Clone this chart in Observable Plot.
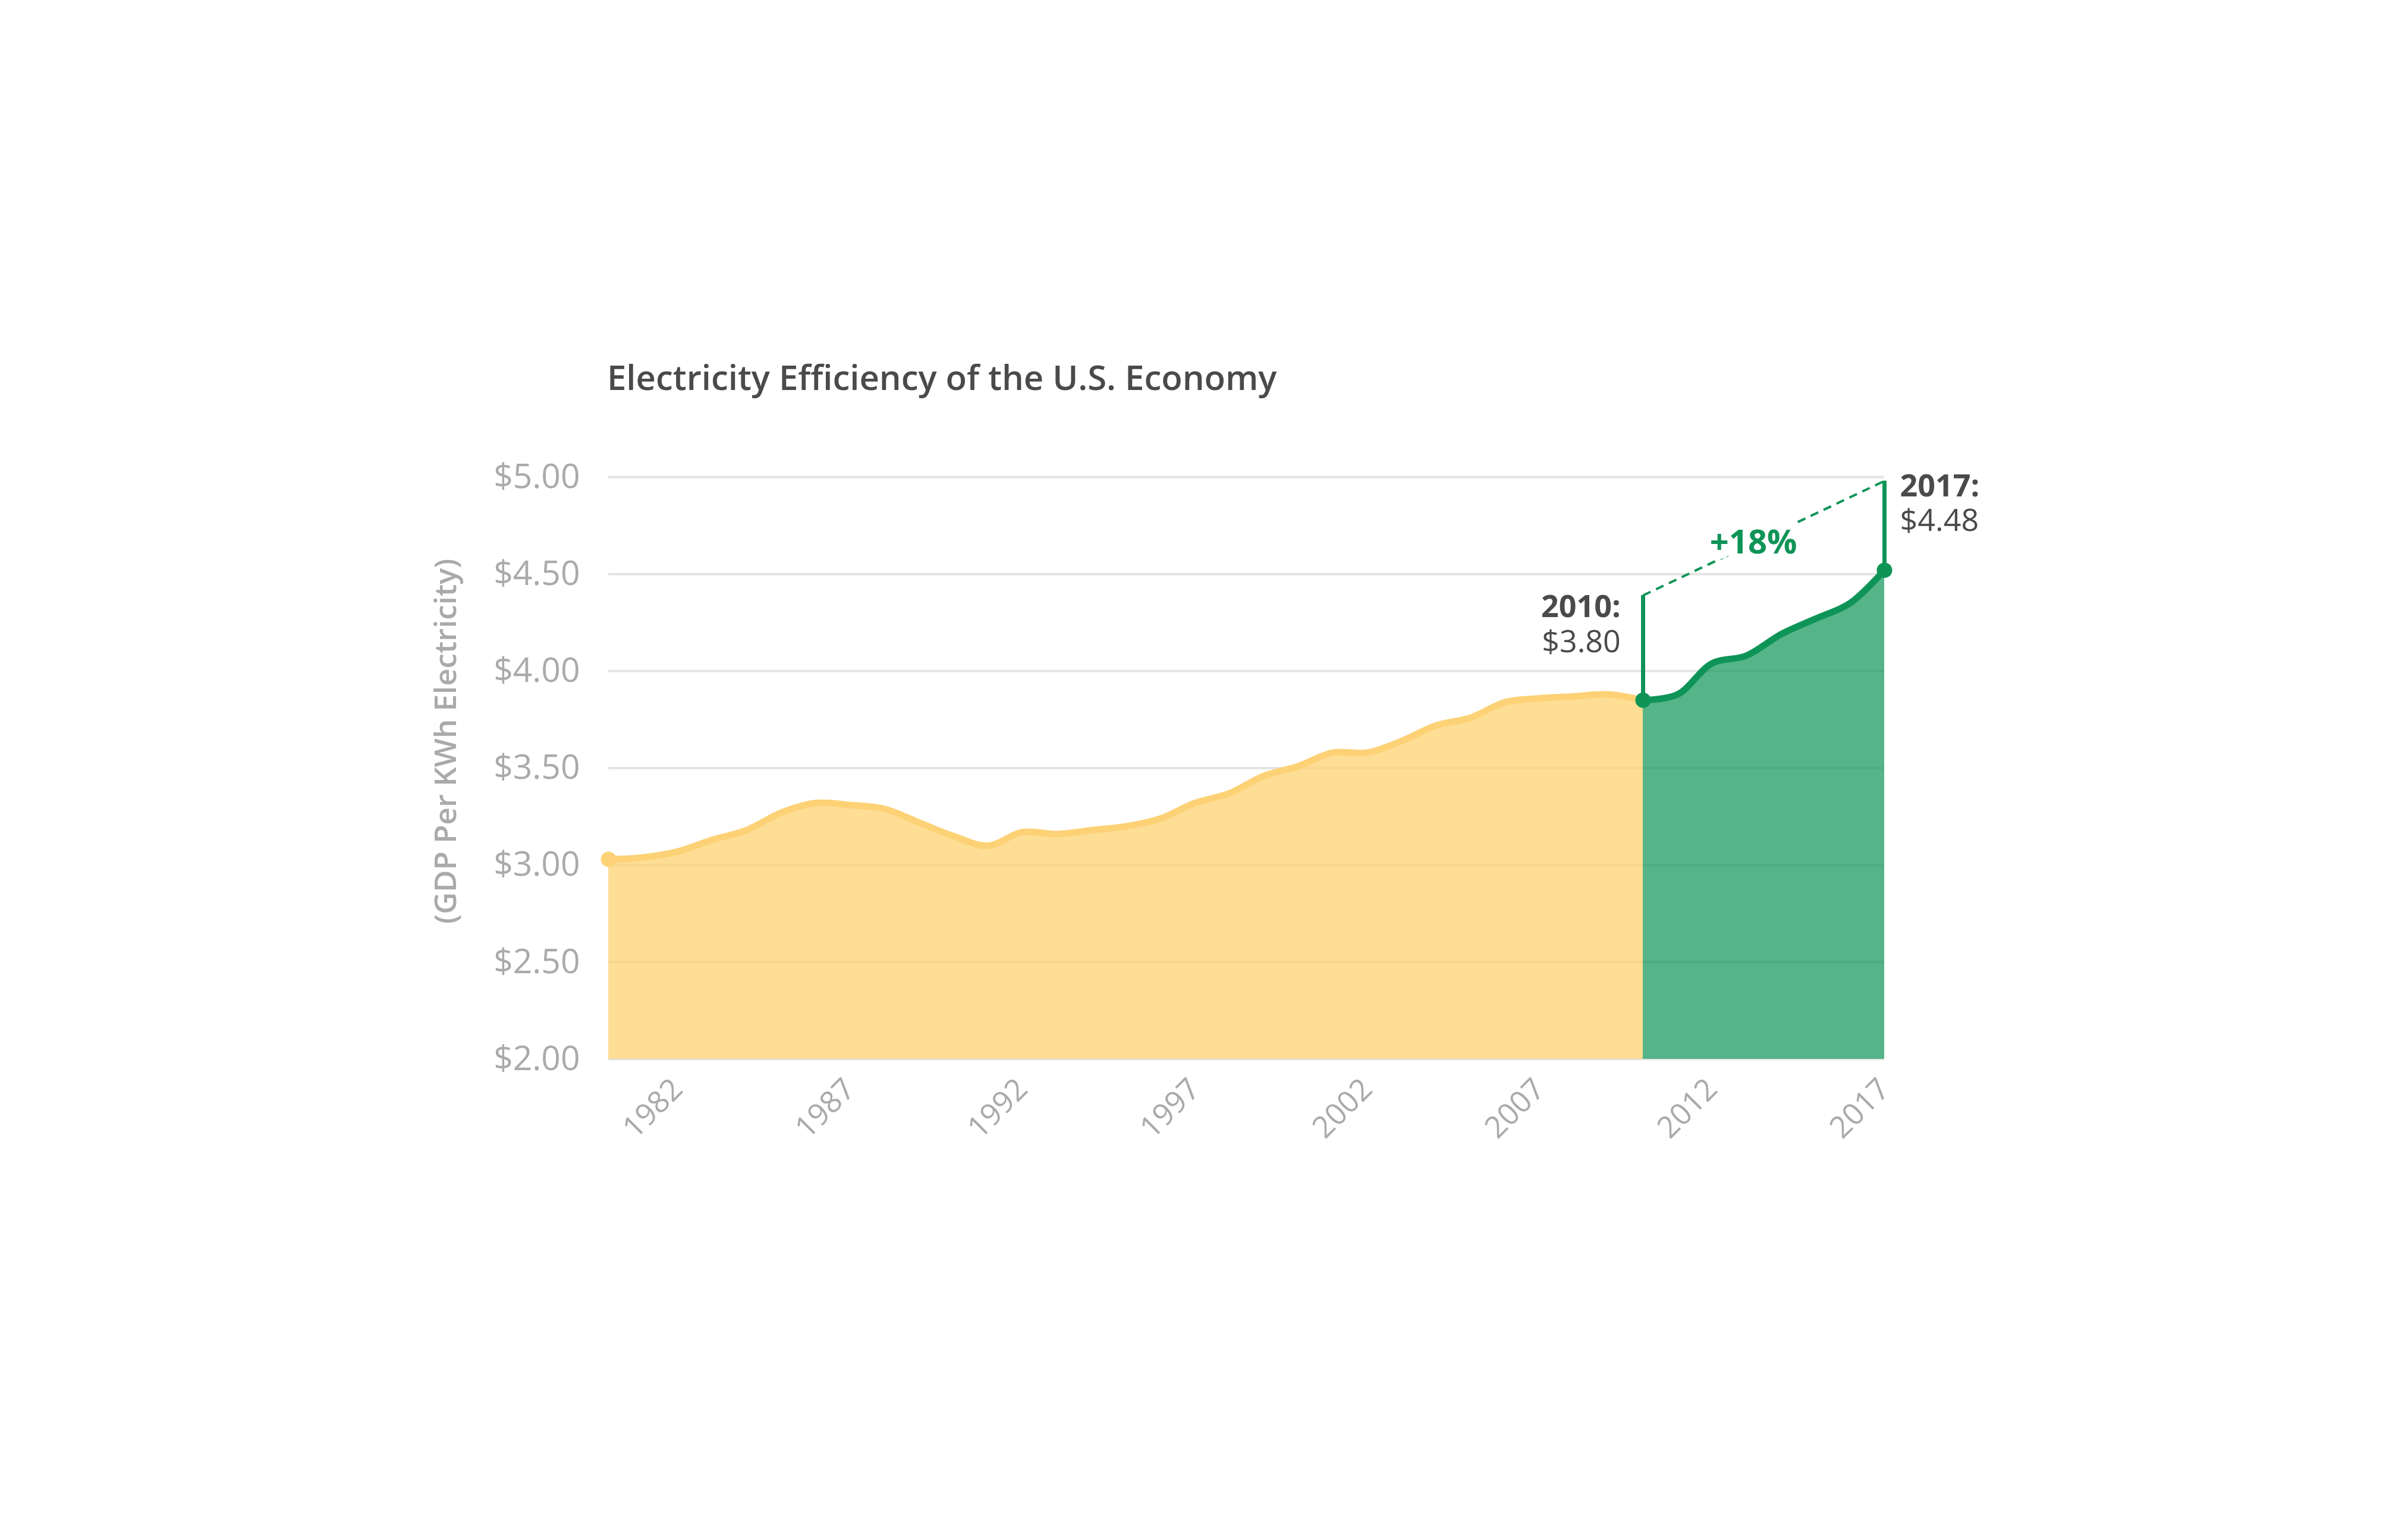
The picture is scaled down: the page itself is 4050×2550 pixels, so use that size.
<!DOCTYPE html>
<html><head><meta charset="utf-8">
<script src="https://cdn.jsdelivr.net/npm/d3@7"></script>
<script src="https://cdn.jsdelivr.net/npm/@observablehq/plot@0.6"></script>
<style>
body{margin:0;background:#fff;font-family:"Open Sans",sans-serif;}
#wrap{position:relative;width:4050px;height:2550px;}
#title{position:absolute;left:1021px;top:594px;font-size:58px;font-weight:600;color:#4a4a4a;}
</style></head><body>
<div id="wrap"><div id="title">Electricity Efficiency of the U.S. Economy</div><div id="chart"></div></div>
<script>
const yearsBefore = [1980,1981,1982,1983,1984,1985,1986,1987,1988,1989,1990,1991,1992,1993,1994,1995,1996,1997,1998,1999,2000,2001,2002,2003,2004,2005,2006,2007,2008,2009,2010];
const valuesBefore = [3.03,3.04,3.07,3.13,3.18,3.27,3.32,3.31,3.29,3.22,3.15,3.10,3.17,3.16,3.18,3.20,3.24,3.32,3.37,3.46,3.51,3.58,3.58,3.64,3.72,3.76,3.84,3.86,3.87,3.88,3.85];
const yearsAfter = [2010,2011,2012,2013,2014,2015,2016,2017];
const valuesAfter = [3.85,3.88,4.04,4.08,4.19,4.27,4.35,4.52];
const yTicks = [2,2.5,3,3.5,4,4.5,5];
const xTicks = [1982,1987,1992,1997,2002,2007,2012,2017];
const startLabel = ["2010:", "$3.80"];
const endLabel = ["2017:", "$4.48"];
const changeLabel = "+18%";
const bracketStart = 4.39, bracketEnd = 4.98;

const before = yearsBefore.map((x,i)=>({x, y:valuesBefore[i]}));
const after = yearsAfter.map((x,i)=>({x, y:valuesAfter[i]}));
const green = "#0f9457", dark = "#4a4a4a", grey = "#aaaaaa";

const chart = Plot.plot({
  width: 4050, height: 2550,
  marginTop: 802, marginBottom: 769, marginLeft: 1023, marginRight: 881,
  style: {fontFamily: "'Open Sans', sans-serif", background: "transparent"},
  x: {domain: [1980, 2017], label: null},
  y: {domain: [2, 5], label: null},
  marks: [
    Plot.gridY(yTicks, {stroke: "#e4e4e4", strokeOpacity: 1, strokeWidth: 4}),
    Plot.areaY(before, {x: "x", y: "y", y1: 2, fill: "#fdd170", fillOpacity: 0.75, curve: "catmull-rom"}),
    Plot.areaY(after, {x: "x", y: "y", y1: 2, fill: "#1c9b60", fillOpacity: 0.75, curve: "catmull-rom"}),
    Plot.line(before, {x: "x", y: "y", stroke: "#fdd175", strokeWidth: 11, curve: "catmull-rom"}),
    Plot.line(after, {x: "x", y: "y", stroke: green, strokeWidth: 11, curve: "catmull-rom"}),
    Plot.dot([before[0]], {x: "x", y: "y", r: 13, fill: "#fdd175"}),
    Plot.dot([after[0], after[after.length-1]], {x: "x", y: "y", r: 13, fill: green}),
    Plot.ruleX([after[0]], {x: "x", y1: "y", y2: bracketStart, stroke: green, strokeWidth: 7}),
    Plot.ruleX([after[after.length-1]], {x: "x", y1: "y", y2: bracketEnd, stroke: green, strokeWidth: 7}),
    Plot.link([{x1: 2010, y1: bracketStart, x2: 2017, y2: bracketEnd}], {x1: "x1", y1: "y1", x2: "x2", y2: "y2", stroke: green, strokeWidth: 4, strokeDasharray: "14,10"}),
    Plot.text([changeLabel], {x: 2013.2, y: 4.66, text: d => d, fill: green, fontWeight: 700, fontSize: 56, stroke: "white", strokeWidth: 30}),
    Plot.text([startLabel[0]], {x: 2009.35, y: 4.33, text: d => d, textAnchor: "end", fill: dark, fontWeight: 700, fontSize: 52}),
    Plot.text([startLabel[1]], {x: 2009.35, y: 4.15, text: d => d, textAnchor: "end", fill: dark, fontSize: 52}),
    Plot.text([endLabel[0]], {x: 2017.45, y: 4.95, text: d => d, textAnchor: "start", fill: dark, fontWeight: 700, fontSize: 52}),
    Plot.text([endLabel[1]], {x: 2017.45, y: 4.775, text: d => d, textAnchor: "start", fill: dark, fontSize: 52}),
    Plot.axisY({ticks: yTicks, tickFormat: d => "$" + d.toFixed(2), tickSize: 0, tickPadding: 48, fontSize: 57, fill: grey, label: null}),
    Plot.axisX({ticks: xTicks, tickFormat: d => String(d), tickSize: 0, tickRotate: -45, tickPadding: 42, fontSize: 51, fill: grey, label: null}),
    Plot.text(["(GDP Per KWh Electricity)"], {frameAnchor: "left", dx: -273, dy: 262, rotate: -90, text: d => d, fill: grey, fontWeight: 600, fontSize: 51})
  ]
});
document.getElementById("chart").appendChild(chart);
</script></body></html>
